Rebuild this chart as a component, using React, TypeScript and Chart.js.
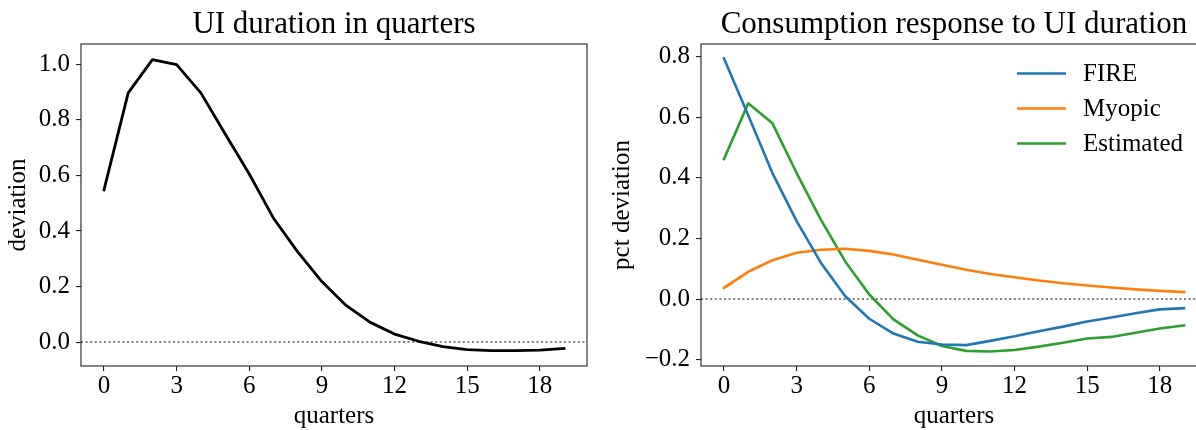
import React, { useEffect, useRef } from 'react';
import { Chart, registerables } from 'chart.js';

Chart.register(...registerables);

// ---------- data ----------
const quarters = [0, 1, 2, 3, 4, 5, 6, 7, 8, 9, 10, 11, 12, 13, 14, 15, 16, 17, 18, 19];
const uiDuration = [0.548, 0.897, 1.017, 0.999, 0.897, 0.75, 0.605, 0.446, 0.325, 0.218, 0.132, 0.071, 0.029, 0.003, -0.016, -0.027, -0.031, -0.031, -0.029, -0.023];
const fire = [0.794, 0.607, 0.416, 0.257, 0.12, 0.01, -0.065, -0.114, -0.141, -0.15, -0.152, -0.138, -0.123, -0.106, -0.091, -0.074, -0.061, -0.047, -0.034, -0.03];
const myopic = [0.037, 0.09, 0.128, 0.153, 0.163, 0.166, 0.159, 0.147, 0.13, 0.113, 0.097, 0.083, 0.072, 0.061, 0.052, 0.045, 0.038, 0.032, 0.027, 0.023];
const estimated = [0.462, 0.646, 0.58, 0.416, 0.262, 0.125, 0.015, -0.067, -0.12, -0.155, -0.171, -0.173, -0.168, -0.157, -0.144, -0.13, -0.125, -0.111, -0.097, -0.087];

const xTicks = [0, 3, 6, 9, 12, 15, 18];
const leftYTicks = [0, 0.2, 0.4, 0.6, 0.8, 1.0];
const rightYTicks = [-0.2, 0, 0.2, 0.4, 0.6, 0.8];
const xRange = [-0.95, 19.95];
const leftYRange = [-0.086, 1.073];
const rightYRange = [-0.221, 0.842];

const leftTitle = 'UI duration in quarters';
const rightTitle = 'Consumption response to UI duration';
const xLabel = 'quarters';
const leftYLabel = 'deviation';
const rightYLabel = 'pct deviation';
const seriesNames = ['FIRE', 'Myopic', 'Estimated'];
const seriesColors = ['#1f77b4', '#ff7f0e', '#2ca02c'];

// ---------- styling ----------
const FONT = 'Liberation Serif';
const TEXT = '#000000';
const SPINE = '#222222';

const toPoints = (ys: number[]) => quarters.map((q, i) => ({ x: q, y: ys[i] }));
const fmtY = (v: number) => {
  const s = Number(v).toFixed(1);
  return s.startsWith('-') ? '\u2212' + s.slice(1) : s;
};

const framePlugin = {
  id: 'frame',
  beforeDatasetsDraw(chart: any) {
    const { ctx, chartArea, scales } = chart;
    const y0 = scales.y.getPixelForValue(0);
    ctx.save();
    ctx.strokeStyle = '#808080';
    ctx.lineWidth = 2;
    ctx.setLineDash([2, 2.6]);
    ctx.beginPath();
    ctx.moveTo(chartArea.left, y0);
    ctx.lineTo(chartArea.right, y0);
    ctx.stroke();
    ctx.restore();
  },
  afterDraw(chart: any) {
    const { ctx, chartArea } = chart;
    ctx.save();
    ctx.strokeStyle = SPINE;
    ctx.lineWidth = 1.1;
    ctx.strokeRect(chartArea.left, chartArea.top, chartArea.right - chartArea.left, chartArea.bottom - chartArea.top);
    ctx.restore();
  },
};

const legendPlugin = {
  id: 'innerLegend',
  afterDatasetsDraw(chart: any, _args: any, opts: any) {
    if (!opts || !opts.show) return;
    const { ctx, chartArea } = chart;
    const ds = chart.data.datasets;
    ctx.save();
    ctx.font = `25px "${FONT}"`;
    let maxW = 0;
    ds.forEach((d: any) => { maxW = Math.max(maxW, ctx.measureText(d.label).width); });
    const textX = chartArea.right - 24 - maxW;
    const lineX2 = textX - 17;
    const lineX1 = lineX2 - 49;
    ds.forEach((d: any, i: number) => {
      const y = chartArea.top + 29.5 + i * 35;
      ctx.strokeStyle = d.borderColor;
      ctx.lineWidth = d.borderWidth;
      ctx.setLineDash([]);
      ctx.beginPath();
      ctx.moveTo(lineX1, y);
      ctx.lineTo(lineX2, y);
      ctx.stroke();
      ctx.fillStyle = TEXT;
      ctx.textAlign = 'left';
      ctx.textBaseline = 'middle';
      ctx.fillText(d.label, textX, y + 1);
    });
    ctx.restore();
  },
};

function makeConfig(p: {
  datasets: any[];
  yRange: number[];
  yTicks: number[];
  yLabel: string;
  title: string;
  yAxisWidth: number;
  yTitlePad: number;
  legend: boolean;
}) {
  return {
    type: 'line',
    data: { datasets: p.datasets },
    options: {
      responsive: false,
      animation: false,
      events: [],
      layout: { padding: { left: 0, right: 13, top: 0, bottom: 0 } },
      plugins: {
        legend: { display: false },
        tooltip: { enabled: false },
        title: {
          display: true,
          text: p.title,
          fullSize: false,
          color: TEXT,
          font: { family: FONT, size: 31, weight: 'normal', lineHeight: 1.2 },
          padding: { top: 5.9, bottom: 0.9 },
        },
        innerLegend: { show: p.legend },
      },
      elements: { point: { radius: 0 }, line: { tension: 0 } },
      scales: {
        x: {
          type: 'linear',
          min: xRange[0],
          max: xRange[1],
          afterBuildTicks: (s: any) => { s.ticks = xTicks.map((v) => ({ value: v })); },
          afterFit: (s: any) => { s.height = 64; },
          border: { display: false },
          grid: { display: true, drawOnChartArea: false, drawTicks: true, tickLength: 5, color: SPINE, lineWidth: 1.1 },
          ticks: {
            color: TEXT,
            font: { family: FONT, size: 25, lineHeight: 1.0 },
            padding: 3,
            maxRotation: 0,
            autoSkip: false,
            callback: (v: any) => String(v),
          },
          title: {
            display: true,
            text: xLabel,
            color: TEXT,
            font: { family: FONT, size: 25, lineHeight: 1.0 },
            padding: { top: 0, bottom: 0.9 },
          },
        },
        y: {
          type: 'linear',
          min: p.yRange[0],
          max: p.yRange[1],
          afterBuildTicks: (s: any) => { s.ticks = p.yTicks.map((v) => ({ value: v })); },
          afterFit: (s: any) => { s.width = p.yAxisWidth; },
          border: { display: false },
          grid: { display: true, drawOnChartArea: false, drawTicks: true, tickLength: 5, color: SPINE, lineWidth: 1.1 },
          ticks: {
            color: TEXT,
            font: { family: FONT, size: 25, lineHeight: 1.0 },
            padding: 6,
            autoSkip: false,
            callback: (v: any) => fmtY(v),
          },
          title: {
            display: true,
            text: p.yLabel,
            color: TEXT,
            font: { family: FONT, size: 25, lineHeight: 1.2 },
            padding: { top: p.yTitlePad, bottom: 0 },
          },
        },
      },
    },
    plugins: [framePlugin, legendPlugin],
  };
}

function ChartCanvas({ config, left, width }: { config: any; left: number; width: number }) {
  const ref = useRef<HTMLCanvasElement | null>(null);
  useEffect(() => {
    if (!ref.current) return;
    const chart = new Chart(ref.current, config);
    return () => chart.destroy();
  }, [config]);
  return (
    <canvas
      ref={ref}
      width={width}
      height={430}
      style={{ position: 'absolute', left, top: 0, width, height: 430, display: 'block' }}
    />
  );
}

const leftConfig = makeConfig({
  datasets: [
    {
      label: 'UI duration',
      data: toPoints(uiDuration),
      borderColor: '#000000',
      borderWidth: 2.8,
      borderCapStyle: 'square',
      borderJoinStyle: 'round',
      fill: false,
    },
  ],
  yRange: leftYRange,
  yTicks: leftYTicks,
  yLabel: leftYLabel,
  title: leftTitle,
  yAxisWidth: 81,
  yTitlePad: 3.3,
  legend: false,
});

const rightConfig = makeConfig({
  datasets: [fire, myopic, estimated].map((ys, i) => ({
    label: seriesNames[i],
    data: toPoints(ys),
    borderColor: seriesColors[i],
    borderWidth: 2.6,
    borderCapStyle: 'square',
    borderJoinStyle: 'round',
    fill: false,
  })),
  yRange: rightYRange,
  yTicks: rightYTicks,
  yLabel: rightYLabel,
  title: rightTitle,
  yAxisWidth: 101,
  yTitlePad: 7.6,
  legend: true,
});

export default function App() {
  return (
    <div
      style={{
        position: 'fixed',
        left: 0,
        top: 0,
        width: 1196,
        height: 430,
        overflow: 'hidden',
        background: '#ffffff',
      }}
    >
      <ChartCanvas config={leftConfig} left={0} width={600} />
      <ChartCanvas config={rightConfig} left={600} width={620} />
    </div>
  );
}
